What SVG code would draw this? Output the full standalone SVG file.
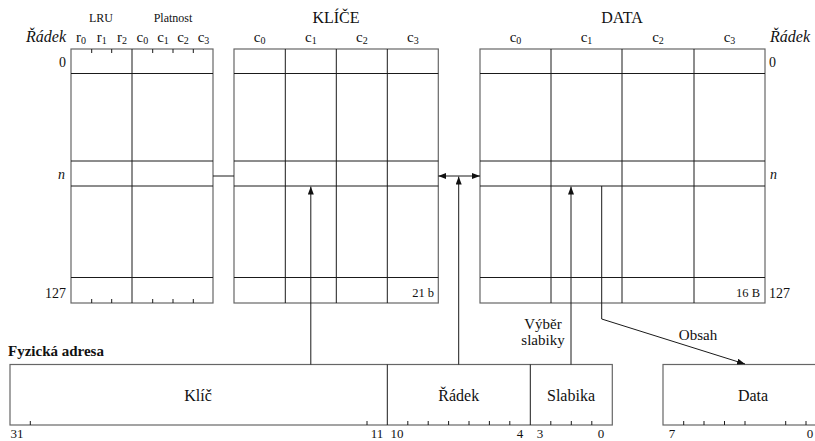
<svg xmlns="http://www.w3.org/2000/svg" width="815" height="441" viewBox="0 0 815 441" font-family="Liberation Serif, DejaVu Serif, serif">
<defs>
<style>
text{font-family:"Liberation Serif","DejaVu Serif","Noto Serif",serif;fill:#111}
.b{fill:#fff;stroke:#666;stroke-width:1.2}
.g{stroke:#1a1a1a;stroke-width:1;fill:none}
.t{stroke:#1a1a1a;stroke-width:1}
.c{stroke:#1a1a1a;stroke-width:1;fill:none}
.hd{font-size:15px;text-anchor:middle}
.sm{font-size:12px;text-anchor:middle}
.ti{font-size:16px;text-anchor:middle}
.it{font-style:italic}
.lb{font-size:16px;text-anchor:middle}
.bn{font-size:13px;text-anchor:middle}
.rl{font-size:14px}
.sz{font-size:12.5px;text-anchor:end}
</style>
<marker id="ah" markerWidth="8" markerHeight="6" refX="8" refY="3" orient="auto-start-reverse" markerUnits="userSpaceOnUse">
<path d="M0,0 L8,3 L0,6 z" fill="#111"/>
</marker>
</defs>
<rect width="815" height="441" fill="#fff"/>

<g id="lru-table">
<text class="sm" x="101" y="22">LRU</text>
<text class="sm" x="173" y="22">Platnost</text>
<text class="ti it" x="66" y="42" style="text-anchor:end">Řádek</text>
<text class="hd" x="81" y="42">r<tspan font-size="10" dy="2">0</tspan></text>
<text class="hd" x="101.7" y="42">r<tspan font-size="10" dy="2">1</tspan></text>
<text class="hd" x="122" y="42">r<tspan font-size="10" dy="2">2</tspan></text>
<text class="hd" x="142.3" y="42">c<tspan font-size="10" dy="2">0</tspan></text>
<text class="hd" x="163" y="42">c<tspan font-size="10" dy="2">1</tspan></text>
<text class="hd" x="183" y="42">c<tspan font-size="10" dy="2">2</tspan></text>
<text class="hd" x="203.5" y="42">c<tspan font-size="10" dy="2">3</tspan></text>
<rect class="b" x="71" y="49" width="142" height="254"/>
<path class="g" d="M132,49V303 M71,73.5H213 M71,161H213 M71,186H213 M71,277.5H213"/>
<path class="t" d="M91.7,49v4 M111.7,49v4 M152.7,49v4 M173,49v4 M193.3,49v4 M91.7,303v-4 M111.7,303v-4 M152.7,303v-4 M173,303v-4 M193.3,303v-4"/>
<text class="rl" x="66" y="67" text-anchor="end">0</text>
<text class="rl it" x="65" y="179" text-anchor="end">n</text>
<text class="rl" x="66" y="298" text-anchor="end">127</text>
</g>

<g id="keys-table">
<text class="ti" x="336" y="23">KLÍČE</text>
<text class="hd" x="259.7" y="42">c<tspan font-size="10" dy="2">0</tspan></text>
<text class="hd" x="310.8" y="42">c<tspan font-size="10" dy="2">1</tspan></text>
<text class="hd" x="361.8" y="42">c<tspan font-size="10" dy="2">2</tspan></text>
<text class="hd" x="412.8" y="42">c<tspan font-size="10" dy="2">3</tspan></text>
<rect class="b" x="234" y="49" width="204.3" height="254"/>
<path class="g" d="M285.3,49V303 M336.3,49V303 M387.3,49V303 M234,73.5H438.3 M234,161H438.3 M234,186H438.3 M234,277.5H438.3"/>
<text class="sz" x="434" y="297">21 b</text>
</g>

<g id="data-table">
<text class="ti" x="622" y="23">DATA</text>
<text class="hd" x="515.5" y="42">c<tspan font-size="10" dy="2">0</tspan></text>
<text class="hd" x="586.5" y="42">c<tspan font-size="10" dy="2">1</tspan></text>
<text class="hd" x="658" y="42">c<tspan font-size="10" dy="2">2</tspan></text>
<text class="hd" x="729.5" y="42">c<tspan font-size="10" dy="2">3</tspan></text>
<text class="ti it" x="770" y="42" style="text-anchor:start">Řádek</text>
<rect class="b" x="480" y="49" width="285" height="254"/>
<path class="g" d="M551,49V303 M622,49V303 M694,49V303 M480,73.5H765 M480,161H765 M480,186H765 M480,277.5H765"/>
<text class="sz" x="760" y="297">16 B</text>
<text class="rl" x="769" y="67">0</text>
<text class="rl it" x="770" y="179">n</text>
<text class="rl" x="769" y="298">127</text>
</g>

<g id="address">
<text x="8" y="356" font-size="15" font-weight="bold">Fyzická adresa</text>
<rect class="b" x="10" y="364.5" width="602.3" height="60.5"/>
<path class="g" d="M387.3,364.5V425 M530.3,364.5V425"/>
<path class="t" d="M30.3,425v-4 M367,425v-4 M407.8,425v-4 M428.2,425v-4 M448.6,425v-4 M469,425v-4 M489.4,425v-4 M509.8,425v-4 M550.8,425v-4 M571.3,425v-4 M591.8,425v-4"/>
<text class="lb" x="198" y="401">Klíč</text>
<text class="lb" x="458.7" y="401">Řádek</text>
<text class="lb" x="571" y="401">Slabika</text>
<text class="bn" x="17" y="438">31</text>
<text class="bn" x="377" y="438">11</text>
<text class="bn" x="397" y="438">10</text>
<text class="bn" x="520" y="438">4</text>
<text class="bn" x="540" y="438">3</text>
<text class="bn" x="601" y="438">0</text>
</g>

<g id="data-out">
<rect class="b" x="663" y="364.5" width="170" height="60.5"/>
<path class="t" d="M683.7,425v-4 M704,425v-4 M724.5,425v-4 M745,425v-4 M785.7,425v-4 M806,425v-4"/>
<text class="lb" x="753" y="401">Data</text>
<text class="bn" x="672" y="438">7</text>
<text class="bn" x="810" y="438">0</text>
</g>

<g id="connectors">
<path class="c" d="M213,176H234" stroke="#555"/>
<path class="c" d="M438.3,176H480" marker-start="url(#ah)" marker-end="url(#ah)"/>
<path class="c" d="M458.7,364.5V176.5" marker-end="url(#ah)"/>
<path class="c" d="M310.8,364.5V186.5" marker-end="url(#ah)"/>
<path class="c" d="M571,364.5V186.5" marker-end="url(#ah)"/>
<path class="c" d="M601.7,186V319L745,364" marker-end="url(#ah)"/>
<text x="543" y="329" font-size="15" text-anchor="middle">Výběr</text>
<text x="543" y="345" font-size="15" text-anchor="middle">slabiky</text>
<text x="698" y="340" font-size="15" text-anchor="middle">Obsah</text>
</g>
</svg>
